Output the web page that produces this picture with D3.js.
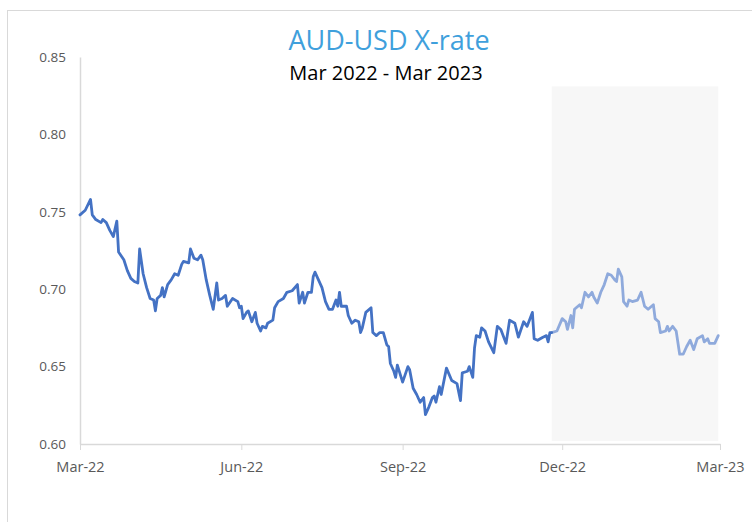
<!DOCTYPE html>
<html><head><meta charset="utf-8">
<script src="https://cdn.jsdelivr.net/npm/d3@7"></script>
<style>body{margin:0;background:#fff}svg{display:block}</style>
</head><body>
<script>
const titleText = "AUD-USD X-rate";
const subtitleText = "Mar 2022 - Mar 2023";
const dates = [
"2022-03-01","2022-03-04","2022-03-07","2022-03-08","2022-03-10","2022-03-13","2022-03-14","2022-03-16","2022-03-18","2022-03-20",
"2022-03-22","2022-03-23","2022-03-26","2022-03-28","2022-03-30","2022-04-01","2022-04-03","2022-04-04","2022-04-06","2022-04-08",
"2022-04-10","2022-04-12","2022-04-13","2022-04-14","2022-04-16","2022-04-17","2022-04-18","2022-04-20","2022-04-22","2022-04-24",
"2022-04-26","2022-04-28","2022-04-29","2022-05-02","2022-05-03","2022-05-05","2022-05-07","2022-05-09","2022-05-10","2022-05-12",
"2022-05-14","2022-05-16","2022-05-18","2022-05-19","2022-05-21","2022-05-23","2022-05-24","2022-05-27","2022-05-30","2022-05-31",
"2022-06-01","2022-06-02","2022-06-04","2022-06-05","2022-06-07","2022-06-09","2022-06-10","2022-06-12","2022-06-13","2022-06-15",
"2022-06-16","2022-06-19","2022-06-20","2022-06-22","2022-06-25","2022-06-27","2022-06-30","2022-07-03","2022-07-04","2022-07-06",
"2022-07-07","2022-07-09","2022-07-11","2022-07-12","2022-07-13","2022-07-15","2022-07-17","2022-07-19","2022-07-21","2022-07-23",
"2022-07-25","2022-07-26","2022-07-27","2022-07-28","2022-07-31","2022-08-01","2022-08-03","2022-08-05","2022-08-07","2022-08-08",
"2022-08-09","2022-08-11","2022-08-14","2022-08-15","2022-08-17","2022-08-19","2022-08-21","2022-08-23","2022-08-24","2022-08-25",
"2022-08-27","2022-08-28","2022-08-29","2022-09-01","2022-09-04","2022-09-05","2022-09-07","2022-09-09","2022-09-11","2022-09-13",
"2022-09-14","2022-09-16","2022-09-18","2022-09-19","2022-09-20","2022-09-22","2022-09-23","2022-09-26","2022-09-29","2022-10-02",
"2022-10-04","2022-10-05","2022-10-08","2022-10-09","2022-10-11","2022-10-12","2022-10-13","2022-10-15","2022-10-16","2022-10-18",
"2022-10-20","2022-10-23","2022-10-25","2022-10-27","2022-10-30","2022-11-01","2022-11-04","2022-11-06","2022-11-09","2022-11-11",
"2022-11-14","2022-11-15","2022-11-17","2022-11-20","2022-11-22","2022-11-23","2022-11-24","2022-11-25","2022-11-28","2022-12-01",
"2022-12-03","2022-12-04","2022-12-06","2022-12-07","2022-12-08","2022-12-11","2022-12-12","2022-12-14","2022-12-16","2022-12-18",
"2022-12-19","2022-12-21","2022-12-23","2022-12-25","2022-12-27","2022-12-29","2022-12-31","2023-01-01","2023-01-02","2023-01-04",
"2023-01-05","2023-01-07","2023-01-08","2023-01-10","2023-01-13","2023-01-15","2023-01-17","2023-01-19","2023-01-22","2023-01-23",
"2023-01-25","2023-01-26","2023-01-29","2023-01-30","2023-01-31","2023-02-02","2023-02-04","2023-02-06","2023-02-08","2023-02-10",
"2023-02-12","2023-02-14","2023-02-16","2023-02-19","2023-02-20","2023-02-22","2023-02-23","2023-02-26","2023-02-28"
];
const rates = [
0.748,0.751,0.758,0.748,0.745,0.743,0.745,0.743,0.738,0.734,
0.744,0.724,0.719,0.712,0.707,0.705,0.704,0.726,0.710,0.701,
0.694,0.693,0.686,0.694,0.696,0.701,0.695,0.703,0.706,0.710,
0.709,0.716,0.718,0.717,0.726,0.720,0.719,0.722,0.719,0.706,
0.696,0.687,0.704,0.693,0.694,0.696,0.689,0.694,0.692,0.688,
0.689,0.681,0.685,0.686,0.679,0.685,0.678,0.673,0.676,0.675,
0.678,0.680,0.688,0.692,0.694,0.698,0.699,0.703,0.691,0.698,
0.691,0.698,0.698,0.708,0.711,0.706,0.701,0.692,0.687,0.687,
0.693,0.689,0.698,0.689,0.689,0.683,0.678,0.680,0.679,0.672,
0.675,0.685,0.688,0.672,0.670,0.672,0.672,0.664,0.663,0.652,
0.647,0.643,0.651,0.640,0.650,0.648,0.636,0.632,0.627,0.630,
0.619,0.624,0.630,0.631,0.627,0.637,0.632,0.649,0.641,0.639,
0.628,0.646,0.647,0.650,0.643,0.662,0.670,0.669,0.675,0.673,
0.666,0.659,0.676,0.674,0.665,0.680,0.678,0.669,0.679,0.676,
0.685,0.668,0.667,0.669,0.670,0.666,0.672,0.672,0.673,0.681,
0.679,0.674,0.683,0.675,0.687,0.690,0.688,0.698,0.695,0.698,
0.695,0.691,0.698,0.703,0.710,0.709,0.706,0.705,0.713,0.708,
0.692,0.689,0.693,0.692,0.693,0.698,0.689,0.687,0.690,0.681,
0.679,0.672,0.673,0.676,0.673,0.676,0.673,0.658,0.658,0.663,
0.667,0.661,0.668,0.670,0.666,0.668,0.665,0.665,0.670
];
const forecastStart = "2022-11-25";
const shadeDates = ["2022-11-25", "2023-02-28"];
const shadeValues = [0.602, 0.831];
const yTicks = [0.60, 0.65, 0.70, 0.75, 0.80, 0.85];
const xTicks = ["2022-03-01", "2022-06-01", "2022-09-01", "2022-12-01", "2023-03-01"];
const xTickLabels = ["Mar-22", "Jun-22", "Sep-22", "Dec-22", "Mar-23"];

const W = 752, H = 522;
const parse = d3.utcParse("%Y-%m-%d");
const svg = d3.select("body").append("svg").attr("width", W).attr("height", H);

svg.append("rect").attr("x", 7.5).attr("y", 10.5).attr("width", 800).attr("height", 600)
  .attr("fill", "#fff").attr("stroke", "#d9d9d9");

const x = d3.scaleUtc().domain([parse(xTicks[0]), parse(xTicks[xTicks.length - 1])]).range([80, 720]);
const y = d3.scaleLinear().domain([0.60, 0.85]).range([444, 57]);

const data = dates.map((d, i) => ({ date: parse(d), v: rates[i] }));
const fs = parse(forecastStart);

// shaded forecast region
svg.append("rect")
  .attr("x", x(parse(shadeDates[0])))
  .attr("y", y(shadeValues[1]))
  .attr("width", x(parse(shadeDates[1])) - x(parse(shadeDates[0])))
  .attr("height", y(shadeValues[0]) - y(shadeValues[1]))
  .attr("fill", "#f7f7f7");

const font = "'Open Sans', sans-serif";

// y axis
const yAxis = svg.append("g").attr("transform", "translate(80,0)")
  .call(d3.axisLeft(y).tickValues(yTicks).tickFormat(d3.format(".2f")).tickSize(0).tickPadding(14).tickSizeOuter(0));
yAxis.select(".domain").attr("stroke", "#d9d9d9").attr("stroke-width", 1.5);
yAxis.selectAll("text").attr("fill", "#595959").style("font-family", font).style("font-size", "13.5px");

// x axis
const xAxis = svg.append("g").attr("transform", "translate(0,444)")
  .call(d3.axisBottom(x).tickValues(xTicks.map(parse)).tickFormat((d, i) => xTickLabels[i]).tickSize(6).tickPadding(12).tickSizeOuter(0));
xAxis.select(".domain").attr("stroke", "#d9d9d9").attr("stroke-width", 1.5);
xAxis.selectAll(".tick line").attr("stroke", "#d9d9d9");
xAxis.selectAll("text").attr("fill", "#595959").style("font-family", font).style("font-size", "14.5px");

const line = d3.line().x(d => x(d.date)).y(d => y(d.v));

svg.append("path").datum(data.filter(d => d.date >= fs))
  .attr("d", line).attr("fill", "none").attr("stroke", "#8faadc").attr("stroke-width", 2.8)
  .attr("stroke-linejoin", "round").attr("stroke-linecap", "round");
svg.append("path").datum(data.filter(d => d.date <= fs))
  .attr("d", line).attr("fill", "none").attr("stroke", "#4472c4").attr("stroke-width", 2.8)
  .attr("stroke-linejoin", "round").attr("stroke-linecap", "round");

svg.append("text").attr("x", 389).attr("y", 50).attr("text-anchor", "middle")
  .attr("fill", "#3fa0dc").style("font-family", font).style("font-size", "27px").text(titleText);
svg.append("text").attr("x", 386).attr("y", 80).attr("text-anchor", "middle")
  .attr("fill", "#000").style("font-family", font).style("font-size", "20px").text(subtitleText);
</script>
</body></html>
